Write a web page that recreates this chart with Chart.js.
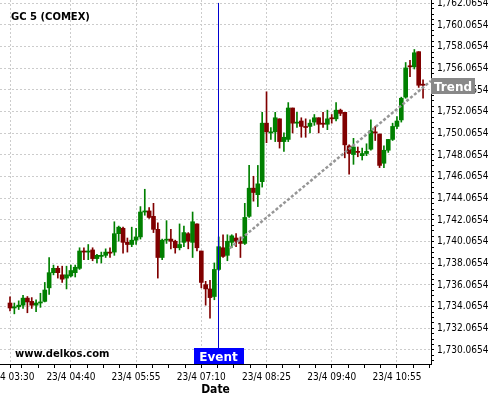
<!DOCTYPE html>
<html>
<head>
<meta charset="utf-8">
<script src="https://cdn.jsdelivr.net/npm/chart.js@4.4.1/dist/chart.umd.min.js"></script>
<style>
  html, body { margin: 0; padding: 0; background: #fff; overflow: hidden; }
  #wrap { position: absolute; left: -40px; top: -10px; width: 540px; height: 410px; }
</style>
</head>
<body>
<div id="wrap"><canvas id="chart" width="540" height="410"></canvas></div>
<script>
// GC 5 (COMEX), 5 minute candles starting 23/4 03:30
const opens = [
  1734.40, 1733.94, 1734.05, 1734.20, 1734.85, 1734.55, 1734.20, 1734.40, 1734.55, 1735.80,
  1737.20, 1737.60, 1737.00, 1736.70, 1736.90, 1737.20, 1737.60, 1739.20, 1739.10, 1739.30,
  1738.50, 1738.70, 1738.80, 1739.10, 1739.10, 1740.80, 1741.30, 1740.00, 1739.80, 1740.20,
  1740.50, 1742.80, 1742.90, 1742.40, 1741.20, 1738.60, 1740.20, 1740.30, 1740.10, 1739.50,
  1740.00, 1740.80, 1740.00, 1741.70, 1739.20, 1736.10, 1735.70, 1735.00, 1737.50, 1739.50,
  1738.80, 1740.00, 1740.40, 1740.10, 1739.90, 1742.40, 1745.00, 1744.40, 1745.60, 1751.00,
  1750.10, 1750.20, 1751.40, 1749.30, 1749.50, 1752.40, 1751.00, 1751.20, 1750.70, 1750.70,
  1751.10, 1751.50, 1751.00, 1750.90, 1751.50, 1751.40, 1752.20, 1752.00, 1748.90, 1748.10,
  1748.40, 1748.00, 1748.20, 1748.60, 1750.20, 1750.00, 1747.30, 1748.50, 1749.50, 1750.70,
  1751.30, 1753.40, 1756.30, 1756.20, 1757.60, 1754.60
];
const highs = [
  1734.96, 1734.40, 1734.60, 1735.10, 1735.00, 1734.90, 1734.70, 1735.30, 1736.30, 1738.60,
  1737.90, 1737.80, 1737.80, 1737.80, 1737.90, 1737.90, 1739.50, 1739.50, 1739.80, 1739.50,
  1738.90, 1739.10, 1739.40, 1739.50, 1741.90, 1741.50, 1741.40, 1740.40, 1741.40, 1741.30,
  1743.30, 1744.90, 1743.20, 1743.60, 1741.80, 1740.30, 1742.00, 1741.20, 1740.20, 1741.70,
  1741.50, 1740.90, 1742.80, 1741.70, 1739.20, 1736.40, 1736.50, 1738.10, 1740.50, 1740.70,
  1740.70, 1740.70, 1740.80, 1740.50, 1743.60, 1747.10, 1746.10, 1747.10, 1752.00, 1753.90,
  1750.60, 1752.00, 1751.40, 1750.10, 1752.90, 1752.40, 1752.00, 1751.50, 1751.40, 1751.30,
  1751.80, 1751.50, 1752.00, 1752.20, 1751.80, 1752.90, 1752.30, 1752.00, 1749.00, 1749.60,
  1748.80, 1748.70, 1749.10, 1751.30, 1750.70, 1750.00, 1748.90, 1749.50, 1751.00, 1751.60,
  1753.40, 1756.60, 1756.80, 1757.80, 1757.60, 1755.00
];
const lows = [
  1733.67, 1733.40, 1733.80, 1733.90, 1733.50, 1733.90, 1733.60, 1734.00, 1734.50, 1735.20,
  1737.00, 1736.70, 1736.30, 1735.70, 1736.80, 1736.80, 1737.50, 1738.40, 1738.40, 1738.30,
  1738.10, 1738.10, 1738.60, 1738.60, 1738.80, 1740.10, 1739.00, 1739.10, 1739.60, 1739.80,
  1740.30, 1742.50, 1742.20, 1740.90, 1736.70, 1738.40, 1739.90, 1739.40, 1739.00, 1739.30,
  1739.60, 1739.40, 1738.60, 1739.20, 1735.80, 1734.20, 1733.00, 1734.70, 1737.40, 1738.60,
  1738.30, 1739.50, 1739.60, 1738.60, 1739.80, 1742.30, 1743.80, 1743.30, 1745.10, 1749.20,
  1749.50, 1749.30, 1748.70, 1748.40, 1749.30, 1750.10, 1750.60, 1749.70, 1749.70, 1750.10,
  1750.80, 1750.10, 1750.60, 1750.40, 1751.00, 1751.20, 1751.70, 1747.80, 1746.30, 1747.20,
  1747.90, 1747.60, 1748.00, 1748.50, 1749.40, 1746.90, 1746.90, 1748.30, 1749.40, 1750.50,
  1751.10, 1753.30, 1755.30, 1756.00, 1754.30, 1753.30
];
const closes = [
  1733.94, 1734.05, 1734.20, 1734.85, 1734.50, 1734.20, 1734.40, 1734.50, 1735.60, 1737.20,
  1737.60, 1737.20, 1736.60, 1737.00, 1737.40, 1737.70, 1739.20, 1739.10, 1739.20, 1738.50,
  1738.80, 1738.80, 1739.10, 1739.00, 1740.80, 1741.40, 1740.00, 1739.80, 1740.20, 1740.50,
  1742.80, 1742.90, 1742.30, 1741.20, 1738.60, 1740.20, 1740.25, 1740.10, 1739.50, 1739.80,
  1740.90, 1740.10, 1741.90, 1739.50, 1736.30, 1735.70, 1734.90, 1737.50, 1739.60, 1738.70,
  1740.10, 1740.60, 1740.10, 1739.90, 1742.30, 1745.00, 1744.60, 1745.40, 1751.00, 1750.20,
  1750.20, 1751.50, 1749.30, 1749.70, 1752.40, 1751.00, 1751.10, 1750.70, 1750.60, 1751.00,
  1751.50, 1750.90, 1750.90, 1751.40, 1751.40, 1752.20, 1751.90, 1749.00, 1748.20, 1748.80,
  1748.30, 1748.20, 1748.40, 1750.30, 1750.10, 1747.10, 1748.50, 1749.50, 1750.70, 1751.20,
  1753.30, 1756.10, 1756.20, 1757.50, 1754.50, 1754.50
];

// x tick labels sit on candle indexes
const xTickPos = [0, 14, 29, 44, 59, 74, 89];
const xTickLabels = ['23/4 03:30', '23/4 04:40', '23/4 05:55', '23/4 07:10', '23/4 08:25', '23/4 09:40', '23/4 10:55'];
const yTickValues = [
  1730.0654, 1732.0654, 1734.0654, 1736.0654, 1738.0654, 1740.0654, 1742.0654, 1744.0654, 1746.0654,
  1748.0654, 1750.0654, 1752.0654, 1754.0654, 1756.0654, 1758.0654, 1760.0654, 1762.0654
];

// event marker and trend line
const eventIndex = 48;
const trendX = [50.5, 96.8];
const trendY = [1739.45, 1754.9];

const X_MIN = -2.3, X_MAX = 96.83;
const Y_MIN = 1728.77, Y_MAX = 1762.37;

const GREEN = '#008000';
const RED = '#800000';
const colors = opens.map((o, i) => closes[i] >= o ? GREEN : RED);
const bodies = opens.map((o, i) => ({ x: i, y: [o, closes[i]] }));
const wicks = lows.map((l, i) => ({ x: i, y: [l, highs[i]] }));
const trendPoints = trendX.map((x, i) => ({ x: x, y: trendY[i] }));

const tickFont = { family: '"DejaVu Sans Condensed", "DejaVu Sans"', size: 10 };
const fmt = v => v.toLocaleString('en-US', { minimumFractionDigits: 4, maximumFractionDigits: 4 });
const gridColor = c => (c.tick && c.tick.major) ? '#cccccc' : 'rgba(0,0,0,0)';

// event line over the candles
const eventLine = {
  id: 'eventLine',
  afterDatasetsDraw(chart) {
    const ctx = chart.ctx;
    const area = chart.chartArea;
    const x = Math.floor(chart.scales.x.getPixelForValue(eventIndex)) + 0.5;
    const top = chart.scales.y.getPixelForValue(1762.1);
    ctx.save();
    ctx.strokeStyle = '#0000d0';
    ctx.lineWidth = 1;
    ctx.beginPath();
    ctx.moveTo(x, top);
    ctx.lineTo(x, area.bottom);
    ctx.stroke();
    ctx.restore();
  }
};

// texts and labels drawn over the plot
const overlay = {
  id: 'overlay',
  afterDraw(chart) {
    const ctx = chart.ctx;
    const area = chart.chartArea;
    const xs = chart.scales.x, ys = chart.scales.y;
    ctx.save();
    ctx.fillStyle = '#000';
    ctx.textBaseline = 'alphabetic';
    ctx.font = 'bold 10px "DejaVu Sans"';
    ctx.fillText('GC 5 (COMEX)', area.left + 11, area.top + 19.5);
    ctx.fillText('www.delkos.com', area.left + 15, area.bottom - 7);

    // Event box
    const ex = Math.floor(xs.getPixelForValue(eventIndex)) + 0.5;
    ctx.fillStyle = '#0000ff';
    ctx.fillRect(Math.round(ex - 25), area.bottom - 16, 50, 16);
    ctx.fillStyle = '#fff';
    ctx.font = 'bold 12px "DejaVu Sans"';
    ctx.textAlign = 'center';
    ctx.fillText('Event', ex, area.bottom - 3);

    // Trend box
    const ty = Math.round(ys.getPixelForValue(1754.4));
    ctx.fillStyle = '#888888';
    ctx.fillRect(area.right, ty - 8, 44, 16);
    ctx.fillStyle = '#fff';
    ctx.textAlign = 'left';
    ctx.fillText('Trend', area.right + 3, ty + 5);
    ctx.restore();
  }
};

new Chart(document.getElementById('chart'), {
  type: 'bar',
  data: {
    datasets: [
      { type: 'line', data: trendPoints, borderColor: '#969696', borderWidth: 2.5, borderDash: [3, 2], pointRadius: 0, fill: false },
      { data: bodies, backgroundColor: colors, barThickness: 4, minBarLength: 1, grouped: false },
      { data: wicks, backgroundColor: colors, barThickness: 1, grouped: false }
    ]
  },
  options: {
    responsive: false,
    animation: false,
    layout: { padding: { left: 40, top: 10, right: 0, bottom: 0 } },
    plugins: { legend: { display: false }, tooltip: { enabled: false } },
    scales: {
      x: {
        type: 'linear',
        min: X_MIN,
        max: X_MAX,
        offset: false,
        grid: { offset: false, color: gridColor, tickColor: '#000', tickLength: 4 },
        border: { display: true, color: '#000', width: 1, dash: [2, 2] },
        ticks: {
          autoSkip: false,
          maxRotation: 0,
          padding: 3,
          color: '#000',
          font: tickFont,
          callback: v => {
            const k = xTickPos.indexOf(v);
            return k >= 0 ? xTickLabels[k] : '';
          }
        },
        title: {
          display: true,
          text: 'Date',
          color: '#000',
          font: { family: '"DejaVu Sans Condensed", "DejaVu Sans"', size: 12, weight: 'bold' },
          padding: { top: 0, bottom: 3 }
        },
        afterBuildTicks: axis => {
          const vals = [0];
          for (let k = -2; k < 30; k++) {
            const v = 89 - 3.75 * k;
            if (v > 0 && v <= X_MAX) vals.push(v);
          }
          vals.sort((a, b) => a - b);
          axis.ticks = vals.map(v => ({ value: v, major: xTickPos.includes(v) }));
        },
        afterFit: s => { s.height = 36; }
      },
      y: {
        type: 'linear',
        position: 'right',
        min: Y_MIN,
        max: Y_MAX,
        grid: { color: gridColor, tickColor: '#000', tickLength: 3 },
        border: { display: true, color: '#000', width: 1, dash: [2, 2] },
        ticks: {
          autoSkip: false,
          padding: 3,
          color: '#000',
          font: tickFont,
          callback: (v, i, t) => t[i].major ? fmt(v) : ''
        },
        afterBuildTicks: axis => {
          const ticks = [];
          for (let k = -2; k <= 64; k++) {
            const v = 1730.0654 + 0.5 * k;
            if (v < Y_MIN || v > Y_MAX) continue;
            const hit = yTickValues.find(y => Math.abs(y - v) < 1e-6);
            ticks.push({ value: hit !== undefined ? hit : v, major: hit !== undefined });
          }
          axis.ticks = ticks;
        },
        afterFit: s => { s.width = 69; }
      }
    }
  },
  plugins: [eventLine, overlay]
});
</script>
</body>
</html>
